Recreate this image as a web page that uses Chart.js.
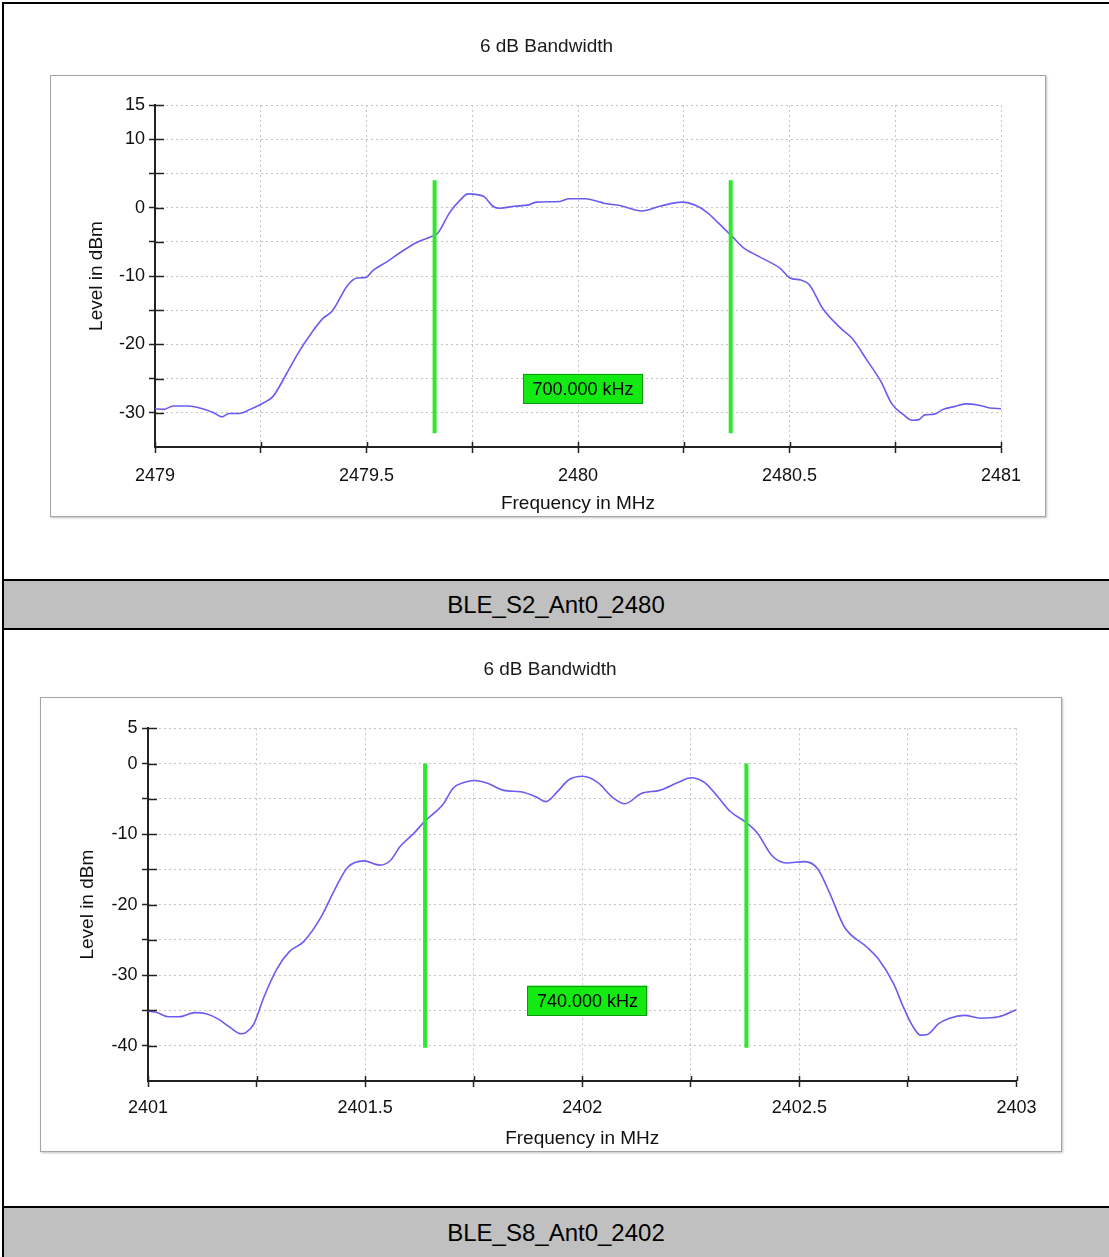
<!DOCTYPE html>
<html><head><meta charset="utf-8">
<script src="https://cdn.jsdelivr.net/npm/chart.js@4.4.1/dist/chart.umd.min.js"></script>
<style>
html,body{margin:0;padding:0;background:#fff;width:1109px;height:1257px;overflow:hidden;position:relative;font-family:"Liberation Sans",Arial,sans-serif;}
.abs{position:absolute;}
.frame{position:absolute;border:1px solid #a4a4a4;box-shadow:1px 1px 2px rgba(0,0,0,0.25);background:#fff;}
.band{position:absolute;left:2px;width:1108px;background:#c0c0c0;border-top:2px solid #000;box-sizing:border-box;text-align:center;color:#000;font-size:24px;}
</style></head><body>
<div class="frame" style="left:50px;top:75px;width:994px;height:440px"></div>
<div class="frame" style="left:40px;top:697px;width:1020px;height:453px"></div>
<canvas id="c1" class="abs" style="left:0;top:0" width="1109" height="579"></canvas>
<canvas id="c2" class="abs" style="left:0;top:630px" width="1109" height="577"></canvas>
<div class="band" id="b1" style="top:579px;height:51px;border-bottom:2px solid #000;line-height:47px"></div>
<div class="band" id="b2" style="top:1206px;height:60px;line-height:50px"></div>
<div class="abs" style="left:2px;top:2px;width:2px;height:1260px;background:#000"></div>
<div class="abs" style="left:2px;top:2px;width:1120px;height:2px;background:#000"></div>
<script>
const FONT = '"Liberation Sans", Arial, sans-serif';
const chartTitle = '6 dB Bandwidth';
const xAxisTitle = 'Frequency in MHz';
const yAxisTitle = 'Level in dBm';
const topCaption = 'BLE_S2_Ant0_2480';
const bottomCaption = 'BLE_S8_Ant0_2402';

// Top chart (BLE_S2_Ant0_2480)
const topFreqs = [2479.000,2479.021,2479.043,2479.080,2479.106,2479.139,2479.158,2479.175,2479.199,2479.225,2479.258,2479.279,2479.310,2479.338,2479.369,2479.397,2479.418,2479.456,2479.478,2479.499,2479.515,2479.546,2479.579,2479.622,2479.655,2479.669,2479.697,2479.723,2479.740,2479.761,2479.778,2479.799,2479.816,2479.849,2479.884,2479.901,2479.957,2479.979,2480.017,2480.064,2480.099,2480.151,2480.194,2480.245,2480.279,2480.305,2480.331,2480.364,2480.390,2480.426,2480.478,2480.501,2480.527,2480.546,2480.579,2480.622,2480.648,2480.683,2480.716,2480.742,2480.768,2480.790,2480.806,2480.820,2480.842,2480.863,2480.889,2480.917,2480.948,2480.974,2481.000];
const topLevels = [-29.4,-29.5,-29.0,-29.0,-29.3,-30.0,-30.6,-30.1,-30.1,-29.5,-28.5,-27.6,-24.4,-21.3,-18.4,-16.2,-15.2,-11.3,-10.3,-10.2,-9.2,-8.0,-6.6,-5.0,-4.2,-3.7,-0.7,1.2,2.0,1.9,1.6,0.2,-0.1,0.2,0.4,0.8,0.9,1.3,1.3,0.6,0.3,-0.5,0.2,0.8,0.3,-0.7,-2.2,-4.2,-5.8,-7.1,-8.9,-10.3,-10.6,-11.2,-14.8,-17.7,-19.1,-22.3,-25.4,-28.7,-30.2,-31.1,-31.0,-30.3,-30.2,-29.5,-29.1,-28.7,-28.9,-29.3,-29.4];
const topMarkerFreqs = [2479.661, 2480.361];
const topMarkerLevels = [4, -33];
const topBandwidthText = '700.000 kHz';
const topBandwidthPos = [2480.012, -26.5];
const topXRange = [2479, 2481];
const topYRange = [-35, 15];
const topXTickLabels = [2479, 2479.5, 2480, 2480.5, 2481];
const topYTickLabels = [15, 10, 0, -10, -20, -30];

// Bottom chart (BLE_S8_Ant0_2402)
const bottomFreqs = [2401.000,2401.021,2401.046,2401.071,2401.108,2401.136,2401.161,2401.189,2401.214,2401.226,2401.244,2401.267,2401.297,2401.325,2401.359,2401.398,2401.433,2401.460,2401.497,2401.534,2401.559,2401.580,2401.612,2401.637,2401.679,2401.704,2401.727,2401.753,2401.782,2401.819,2401.858,2401.893,2401.916,2401.944,2401.969,2402.001,2402.036,2402.070,2402.098,2402.137,2402.178,2402.220,2402.250,2402.282,2402.312,2402.341,2402.374,2402.404,2402.436,2402.471,2402.512,2402.542,2402.570,2402.604,2402.655,2402.682,2402.717,2402.738,2402.758,2402.779,2402.795,2402.820,2402.846,2402.880,2402.917,2402.959,2403.000];
const bottomLevels = [-35.1,-35.3,-35.9,-35.9,-35.3,-35.5,-36.2,-37.4,-38.3,-38.1,-36.9,-33.1,-29.1,-26.7,-25.2,-21.8,-17.5,-14.7,-13.8,-14.4,-13.7,-11.8,-9.9,-8.2,-5.8,-3.4,-2.7,-2.4,-2.8,-3.8,-4.0,-4.7,-5.4,-3.9,-2.3,-1.8,-2.7,-4.8,-5.7,-4.2,-3.8,-2.7,-2.0,-2.7,-4.7,-6.8,-8.2,-9.9,-13.0,-14.1,-13.9,-14.9,-18.4,-23.2,-26.0,-27.7,-31.2,-34.3,-36.9,-38.5,-38.4,-36.9,-36.1,-35.7,-36.1,-35.9,-34.9];
const bottomMarkerFreqs = [2401.638, 2402.378];
const bottomMarkerLevels = [0, -40.3];
const bottomBandwidthText = '740.000 kHz';
const bottomBandwidthPos = [2402.012, -33.6];
const bottomXRange = [2401, 2403];
const bottomYRange = [-45, 5];
const bottomXTickLabels = [2401, 2401.5, 2402, 2402.5, 2403];
const bottomYTickLabels = [5, 0, -10, -20, -30, -40];

document.getElementById('b1').textContent = topCaption;
document.getElementById('b2').textContent = bottomCaption;

const innerTicks = {
  id: 'innerTicks',
  afterDraw(chart, args, opts) {
    const {ctx, chartArea: a, scales: {x, y}} = chart;
    ctx.save();
    ctx.strokeStyle = '#222';
    ctx.lineWidth = 1.5;
    y.ticks.forEach(t => {
      if (Math.abs(t.value - y.min) < 1e-9) return;
      const p = Math.round(y.getPixelForValue(t.value)) + 0.5;
      ctx.beginPath(); ctx.moveTo(a.left, p); ctx.lineTo(a.left + opts.y, p); ctx.stroke();
    });
    x.ticks.forEach(t => {
      const p = Math.round(x.getPixelForValue(t.value)) + 0.5;
      ctx.beginPath(); ctx.moveTo(p, a.bottom); ctx.lineTo(p, a.bottom - opts.x); ctx.stroke();
    });
    ctx.restore();
  }
};

const bwLabel = {
  id: 'bwLabel',
  afterDatasetsDraw(chart, args, opts) {
    const {ctx, scales: {x, y}} = chart;
    const cx = x.getPixelForValue(opts.pos[0]);
    const cy = y.getPixelForValue(opts.pos[1]);
    const w = opts.w, h = opts.h;
    ctx.save();
    ctx.fillStyle = '#12ea12';
    ctx.fillRect(cx - w / 2, cy - h / 2, w, h);
    ctx.strokeStyle = '#0c9a0c';
    ctx.lineWidth = 1;
    ctx.strokeRect(Math.round(cx - w / 2) + 0.5, Math.round(cy - h / 2) + 0.5, w - 1, h - 1);
    ctx.fillStyle = '#000';
    ctx.font = '18px ' + FONT;
    ctx.textAlign = 'center';
    ctx.textBaseline = 'middle';
    ctx.fillText(opts.text, cx, cy + 1);
    ctx.restore();
  }
};

function hasLabel(list, v) { return list.some(l => Math.abs(l - v) < 1e-6); }

function buildChart(id, c) {
  const datasets = [{
    data: c.freqs.map((f, i) => ({x: f, y: c.levels[i]})),
    borderColor: '#6a5cf2', borderWidth: 1.6, pointRadius: 0,
    cubicInterpolationMode: 'monotone', fill: false, order: 1
  }];
  c.markerFreqs.forEach(f => datasets.push({
    data: c.markerLevels.map(l => ({x: f, y: l})),
    borderColor: '#2ee82e', borderWidth: 4, pointRadius: 0, fill: false, order: 0,
    borderCapStyle: 'butt'
  }));
  const gridBase = {
    color: '#c4c4c4', lineWidth: 1,
    tickLength: 6, tickWidth: 1.5, tickBorderDash: []
  };
  const borderBase = {display: true, color: '#222', width: 2, dash: [2, 3]};
  return new Chart(document.getElementById(id), {
    type: 'line',
    data: {datasets},
    options: {
      responsive: false, animation: false, maintainAspectRatio: false,
      layout: {padding: c.pad},
      plugins: {
        legend: {display: false}, tooltip: {enabled: false},
        title: {display: true, text: chartTitle, color: '#1a1a1a',
          font: {family: FONT, size: 19, weight: 'normal', lineHeight: 1.2},
          padding: c.titlePad},
        innerTicks: {x: 5, y: 9},
        bwLabel: {pos: c.bwPos, text: c.bwText, w: 120, h: 30}
      },
      scales: {
        x: {
          type: 'linear', min: c.xRange[0], max: c.xRange[1],
          ticks: {stepSize: 0.25, autoSkip: false, maxRotation: 0, color: '#111',
            font: {family: FONT, size: 18}, padding: c.xTickPad,
            callback: v => hasLabel(c.xLabels, v) ? String(v) : ''},
          grid: Object.assign({}, gridBase, {tickColor: '#222'}),
          border: borderBase,
          title: {display: true, text: xAxisTitle, color: '#111',
            font: {family: FONT, size: 19, lineHeight: 1.2}, padding: {top: 0, bottom: c.xTitlePadB}},
          afterFit: s => { s.height = 80; s.paddingLeft = 0; s.paddingRight = 0; }
        },
        y: {
          type: 'linear', min: c.yRange[0], max: c.yRange[1],
          ticks: {stepSize: 5, autoSkip: false, color: '#111',
            font: {family: FONT, size: 18}, padding: c.yTickPad,
            callback: v => hasLabel(c.yLabels, v) ? String(v) : ''},
          grid: Object.assign({}, gridBase, {
            tickColor: ctx => (ctx.tick && Math.abs(ctx.tick.value - c.yRange[0]) < 1e-9) ? 'rgba(0,0,0,0)' : '#222'}),
          border: borderBase,
          title: {display: true, text: yAxisTitle, color: '#111',
            font: {family: FONT, size: 19, lineHeight: 1.2}, padding: {top: c.yTitlePadT, bottom: 0}},
          afterFit: s => { s.width = c.yW; s.paddingTop = 0; s.paddingBottom = 0; }
        }
      }
    },
    plugins: [innerTicks, bwLabel]
  });
}

buildChart('c1', {
  freqs: topFreqs, levels: topLevels, markerFreqs: topMarkerFreqs, markerLevels: topMarkerLevels,
  bwText: topBandwidthText, bwPos: topBandwidthPos, xRange: topXRange, yRange: topYRange,
  xLabels: topXTickLabels, yLabels: topYTickLabels,
  pad: {left: 92, right: 108, top: 0, bottom: 52}, yW: 63,
  titlePad: {top: 35, bottom: 47.2}, xTickPad: 12, yTickPad: 4,
  xTitlePadB: 12, yTitlePadT: -6.4
});
buildChart('c2', {
  freqs: bottomFreqs, levels: bottomLevels, markerFreqs: bottomMarkerFreqs, markerLevels: bottomMarkerLevels,
  bwText: bottomBandwidthText, bwPos: bottomBandwidthPos, xRange: bottomXRange, yRange: bottomYRange,
  xLabels: bottomXTickLabels, yLabels: bottomYTickLabels,
  pad: {left: 83.5, right: 92.5, top: 0, bottom: 46}, yW: 64.5,
  titlePad: {top: 28, bottom: 47.5}, xTickPad: 10, yTickPad: 4.5,
  xTitlePadB: 10.5, yTitlePadT: -6.9
});
</script>
</body></html>
